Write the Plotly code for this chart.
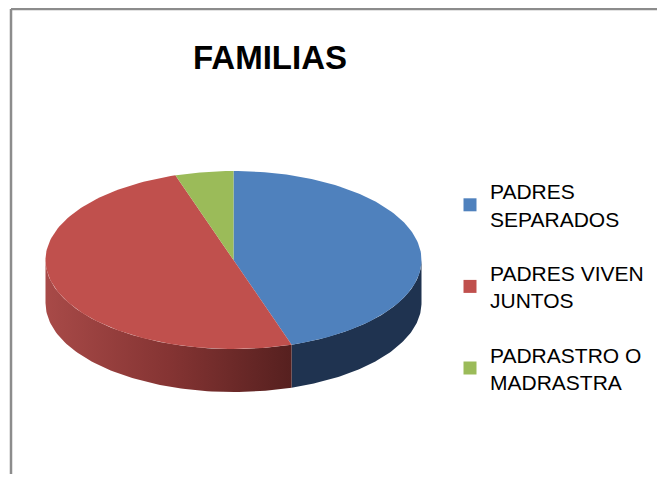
import numpy as np
import plotly.graph_objects as go

# data
labels = ["PADRES<br>SEPARADOS", "PADRES VIVEN<br>JUNTOS", "PADRASTRO O<br>MADRASTRA"]
values = [9, 10, 1]
top_colors = ["#4F81BD", "#C0504D", "#9BBB59"]
side_colors = ["#1F3350", None, "#5F7A36"]
red_side_scale = [[0, "#A84A48"], [0.5, "#853433"], [1, "#56201F"]]

# page has an 8px body margin; keep the figure inside the window and
# map the axes 1:1 to screen pixels
OFF = 8
W, H = 665 - 2 * OFF, 482 - 2 * OFF
CX, CY, RX, RY, DEPTH = 233.5, 260, 188, 89, 43


def ellipse(t):
	# t in degrees, clockwise from 12 o'clock
	r = np.radians(t)
	return CX + RX * np.sin(r), CY - RY * np.cos(r)


def px(x):
	return (x - OFF) / W


def py(y):
	return 1 - (y - OFF) / H


total = sum(values)
bounds = np.concatenate([[0], np.cumsum(values) / total * 360])

fig = go.Figure()

# side walls (only the front half, 90..270 deg, is seen)
for i in range(len(values)):
	lo, hi = max(bounds[i], 90), min(bounds[i + 1], 270)
	if lo >= hi:
		continue
	ts = np.linspace(lo, hi, 80)
	x, y = ellipse(ts)
	sx = np.concatenate([x, x[::-1], x[:1]])
	sy = np.concatenate([y, (y + DEPTH)[::-1], y[:1]])
	kw = dict(fillcolor=side_colors[i])
	if side_colors[i] is None:
		kw = dict(fillgradient=dict(type="horizontal", colorscale=red_side_scale))
	fig.add_trace(go.Scatter(x=sx, y=sy, mode="lines", fill="toself", line=dict(width=0),
		hoverinfo="skip", showlegend=False, **kw))

# top faces
for i in range(len(values)):
	ts = np.linspace(bounds[i], bounds[i + 1], 120)
	x, y = ellipse(ts)
	sx = np.concatenate([[CX], x, [CX]])
	sy = np.concatenate([[CY], y, [CY]])
	fig.add_trace(go.Scatter(x=sx, y=sy, mode="lines", fill="toself", fillcolor=top_colors[i],
		line=dict(width=0), hoverinfo="skip", showlegend=False))

# legend entries
for i, lab in enumerate(labels):
	fig.add_trace(go.Scatter(x=[None], y=[None], mode="markers", name=lab, legendgroup=str(i),
		marker=dict(symbol="square", size=13, color=top_colors[i])))

# outer frame (top and left edges only are inside the picture)
fig.add_shape(type="line", x0=11, x1=700, y0=9, y1=9, line=dict(color="#8C8C8C", width=2.5))
fig.add_shape(type="line", x0=11, x1=11, y0=9, y1=500, line=dict(color="#8C8C8C", width=2.5))

fig.update_layout(
	width=W, height=H,
	margin=dict(l=0, r=0, t=0, b=0),
	paper_bgcolor="white", plot_bgcolor="white",
	xaxis=dict(range=[OFF, OFF + W], visible=False, fixedrange=True),
	yaxis=dict(range=[OFF + H, OFF], visible=False, fixedrange=True),
	title=dict(text="<b>FAMILIAS</b>", x=px(270), xanchor="center", y=py(57), yanchor="middle",
		font=dict(family="Liberation Sans", size=33, color="black")),
	legend=dict(x=px(450), y=py(171), xanchor="left", yanchor="top",
		font=dict(family="Liberation Sans", size=21, color="black"),
		tracegroupgap=24, bgcolor="rgba(0,0,0,0)"),
	showlegend=True,
)

fig.write_html("out.html")
